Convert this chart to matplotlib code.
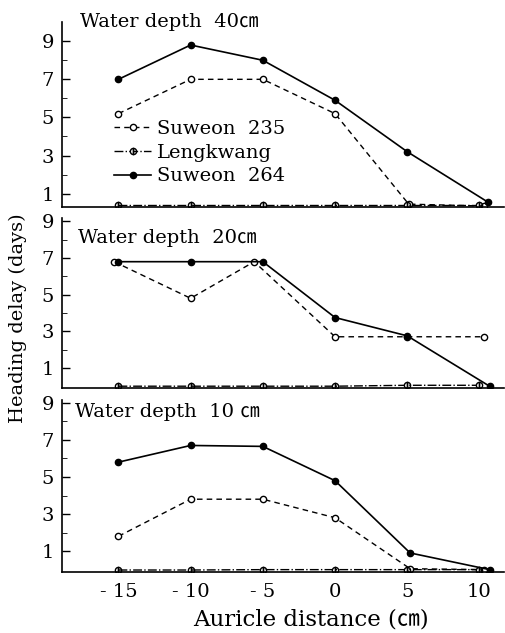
import matplotlib
matplotlib.use("Agg")
import matplotlib.pyplot as plt
from matplotlib.ticker import FixedLocator

plt.rcParams["font.family"] = ["DejaVu Serif", "Noto Sans CJK JP"]

# auricle distance (cm) and heading delay (days)
depths = ["40", "20", "10 "]

x_235 = {"40": [-15, -10, -5, 0, 5.1, 10.3],
         "20": [-15.3, -10, -5.6, 0, 5, 10.3],
         "10 ": [-15, -10, -5, 0, 5.2, 10.3]}
y_235 = {"40": [5.2, 7.0, 7.0, 5.2, 0.45, 0.35],
         "20": [6.8, 4.8, 6.8, 2.7, 2.7, 2.7],
         "10 ": [1.8, 3.8, 3.8, 2.8, 0.05, 0.0]}

x_lk = {"40": [-15, -10, -5, 0, 5, 10],
        "20": [-15, -10, -5, 0, 5, 10],
        "10 ": [-15, -10, -5, 0, 5, 10]}
y_lk = {"40": [0.42, 0.42, 0.42, 0.42, 0.42, 0.42],
        "20": [0.0, 0.0, 0.0, 0.0, 0.05, 0.05],
        "10 ": [-0.02, -0.02, 0.0, 0.0, 0.0, 0.0]}

x_264 = {"40": [-15, -10, -5, 0, 5, 10.6],
         "20": [-15, -10, -5, 0, 5, 10.7],
         "10 ": [-15, -10, -5, 0, 5.2, 10.7]}
y_264 = {"40": [7.0, 8.8, 8.0, 5.9, 3.2, 0.55],
         "20": [6.8, 6.8, 6.8, 3.75, 2.75, 0.0],
         "10 ": [5.8, 6.7, 6.65, 4.8, 0.9, 0.0]}

ylims = {"40": (0.3, 10.0), "20": (-0.1, 9.2), "10 ": (-0.14, 9.15)}
boxes = {"40": (0.673, 0.965), "20": (0.387, 0.656), "10 ": (0.096, 0.368)}

x_ticks = [-15, -10, -5, 0, 5, 10]
x_labels = ["- 15", "- 10", "- 5", "0", "5", "10"]
y_ticks = [1, 3, 5, 7, 9]

fig = plt.figure(figsize=(5.05, 6.33), dpi=100)

for depth in depths:
    bottom, top = boxes[depth]
    ax = fig.add_axes([0.123, bottom, 0.875, top - bottom])
    ax.plot(x_235[depth], y_235[depth], color="black", lw=1.0,
            dashes=(4, 3), marker="o", ms=4.5, mfc="white", mew=1.0,
            label="Suweon  235")
    ax.plot(x_lk[depth], y_lk[depth], color="black", lw=1.0,
            linestyle="-.", marker="o", ms=4.5, mfc="white", mew=1.0,
            fillstyle="left", label="Lengkwang")
    ax.plot(x_264[depth], y_264[depth], color="black", lw=1.2,
            marker="o", ms=4.5, label="Suweon  264")

    ax.set_xlim(-18.9, 11.7)
    ax.set_ylim(*ylims[depth])
    ax.set_xticks(x_ticks)
    ax.yaxis.set_major_locator(FixedLocator(y_ticks))
    ax.yaxis.set_minor_locator(FixedLocator([2, 4, 6, 8]))
    ax.tick_params(axis="y", direction="in", length=6, width=1.0,
                   labelsize=14, pad=6)
    ax.tick_params(axis="y", which="minor", direction="in", length=3.5)
    ax.tick_params(axis="x", length=0, labelsize=14, pad=8)
    if depth == "10 ":
        ax.set_xticklabels(x_labels)
    else:
        ax.set_xticklabels([])
    for side in ("top", "right"):
        ax.spines[side].set_visible(False)
    for side in ("left", "bottom"):
        ax.spines[side].set_linewidth(1.2)
    ax.patch.set_alpha(0)

    title = f"Water depth  {depth}\u339d"
    if depth == "40":
        fig.text(0.158, 0.966, title, fontsize=14, va="center")
        ax.legend(loc="upper left", bbox_to_anchor=(0.10, 0.514),
                  frameon=False, fontsize=14, handlelength=1.9,
                  handletextpad=0.3, labelspacing=0.3, borderaxespad=0)
    elif depth == "20":
        ax.text(0.035, 0.88, title, transform=ax.transAxes,
                fontsize=14, va="center")
    else:
        ax.text(0.03, 0.93, title, transform=ax.transAxes,
                fontsize=14, va="center")

fig.text(0.036, 0.498, "Heading delay (days)", rotation=90,
         fontsize=14, ha="center", va="center")
fig.text(0.616, 0.022, "Auricle distance (\u339d)", fontsize=16.5,
         ha="center", va="center")

fig.savefig("out.png", dpi=100)
